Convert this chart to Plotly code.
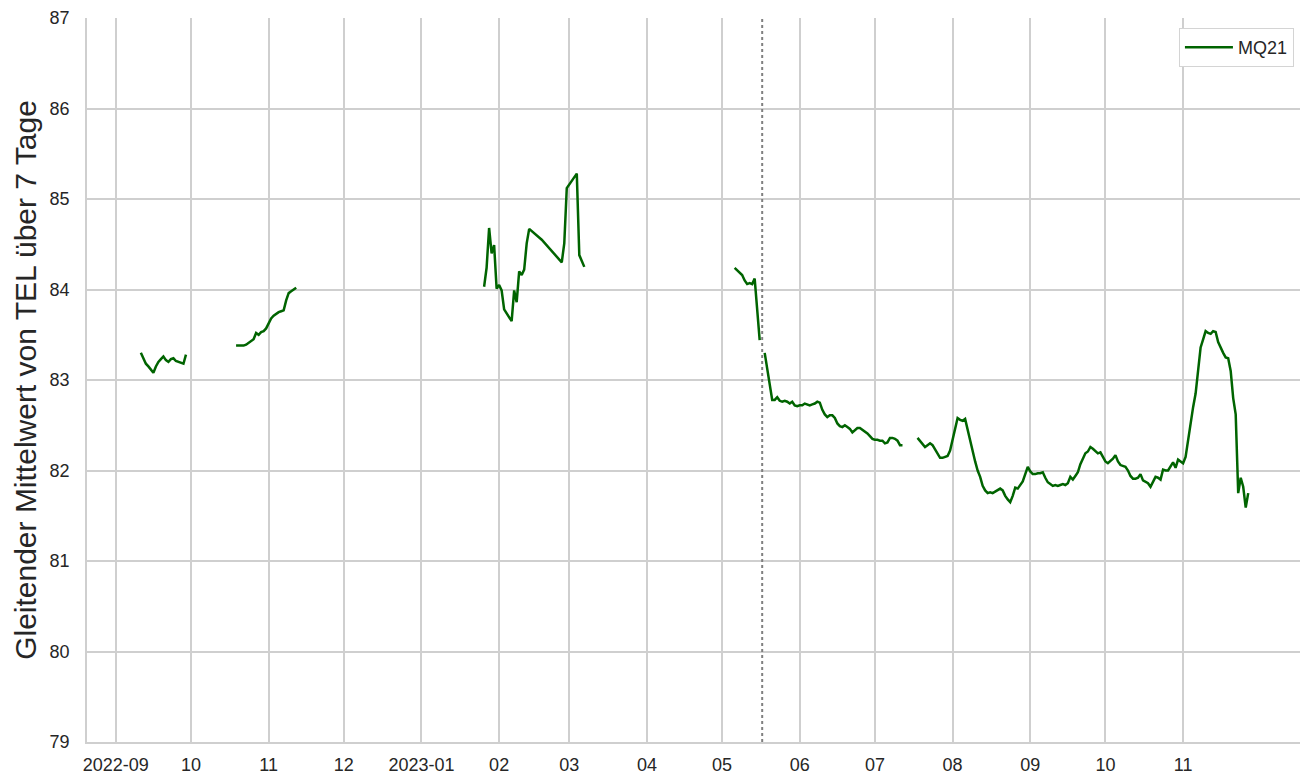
import pandas as pd
import plotly.graph_objects as go

# --- data (7-day rolling mean of TEL, series MQ21) ---
SEG1_START = "2022-09-11"
SEG1_VALUES = [83.30, 83.24, 83.18, 83.15, 83.12, 83.08, 83.15, 83.20, 83.23, 83.26,
               83.22, 83.20, 83.23, 83.24, 83.21, 83.20, 83.19, 83.18, 83.28]

SEG2_START = "2022-10-19"
SEG2_VALUES = [83.38, 83.38, 83.38, 83.38, 83.39, 83.41, 83.43, 83.45, 83.52, 83.50,
               83.53, 83.54, 83.57, 83.63, 83.68, 83.71, 83.73, 83.75, 83.76, 83.77,
               83.88, 83.96, 83.98, 84.00, 84.02]

SEG3_DATES = ["2023-01-26", "2023-01-27", "2023-01-28", "2023-01-29", "2023-01-30",
              "2023-01-31", "2023-02-01", "2023-02-02", "2023-02-03", "2023-02-06",
              "2023-02-07", "2023-02-08", "2023-02-09", "2023-02-10", "2023-02-11",
              "2023-02-12", "2023-02-13", "2023-02-18", "2023-02-26", "2023-02-27",
              "2023-02-28", "2023-03-04", "2023-03-05", "2023-03-07"]
SEG3_VALUES = [84.03, 84.24, 84.68, 84.40, 84.49, 84.01, 84.05, 83.99, 83.78, 83.65,
               83.99, 83.86, 84.20, 84.16, 84.22, 84.51, 84.67, 84.55, 84.30, 84.51,
               85.12, 85.28, 84.38, 84.25]

SEG4_START = "2023-05-06"
SEG4_VALUES = [84.24, 84.21, 84.19, 84.16, 84.10, 84.06, 84.07, 84.06, 84.12, 83.81,
               83.44]

SEG5_START = "2023-05-18"
SEG5_VALUES = [83.30, 83.13, 82.95, 82.78, 82.78, 82.81, 82.77, 82.76, 82.77, 82.76,
               82.74, 82.76, 82.72, 82.71, 82.72, 82.72, 82.74, 82.73, 82.72, 82.73,
               82.74, 82.76, 82.75, 82.67, 82.62, 82.59, 82.61, 82.61, 82.58, 82.52,
               82.49, 82.48, 82.50, 82.48, 82.46, 82.42, 82.44, 82.47, 82.47, 82.45,
               82.43, 82.41, 82.38, 82.35, 82.34, 82.34, 82.33, 82.33, 82.30, 82.31,
               82.36, 82.36, 82.35, 82.33, 82.28, 82.28]

SEG6_START = "2023-07-18"
SEG6_VALUES = [82.36, 82.33, 82.30, 82.26, 82.28, 82.30, 82.28, 82.23, 82.18, 82.14,
               82.14, 82.15, 82.16, 82.22, 82.35, 82.45, 82.58, 82.56, 82.55, 82.57,
               82.45, 82.35, 82.20, 82.10, 82.00, 81.93, 81.83, 81.78, 81.75, 81.76,
               81.75, 81.77, 81.79, 81.80, 81.78, 81.72, 81.68, 81.65, 81.72, 81.81,
               81.80, 81.84, 81.88, 81.96, 82.04, 81.99, 81.96, 81.96, 81.97, 81.97,
               81.98, 81.92, 81.87, 81.85, 81.83, 81.84, 81.83, 81.84, 81.85, 81.84,
               81.86, 81.93, 81.90, 81.94, 81.98, 82.07, 82.14, 82.19, 82.21, 82.26,
               82.24, 82.21, 82.19, 82.20, 82.15, 82.10, 82.08, 82.10, 82.13, 82.17,
               82.10, 82.06, 82.05, 82.04, 82.00, 81.94, 81.91, 81.91, 81.92, 81.96,
               81.89, 81.87, 81.86, 81.82, 81.87, 81.93, 81.92, 81.90, 82.01, 82.00,
               82.00, 82.05, 82.09, 82.03, 82.12, 82.10, 82.08, 82.15, 82.35, 82.55,
               82.70, 82.85, 83.10, 83.36, 83.45, 83.54, 83.52, 83.51, 83.54, 83.53,
               83.42, 83.35, 83.30, 83.25, 83.24, 83.10, 82.80, 82.62, 81.75, 81.92,
               81.82, 81.59, 81.75]

EVENT_DATE = "2023-05-17"
X_RANGE = ["2022-08-20 12:00", "2023-12-17 16:00"]
TICK_DATES = pd.date_range("2022-09-01", "2023-11-01", freq="MS")
TICK_TEXT = ["2022-09", "10", "11", "12", "2023-01", "02", "03", "04", "05", "06",
             "07", "08", "09", "10", "11"]
Y_TICKS = list(range(79, 88))


def daily(start, values):
    return pd.Series(values, index=pd.date_range(start, periods=len(values), freq="D"))


segments = [
    daily(SEG1_START, SEG1_VALUES),
    daily(SEG2_START, SEG2_VALUES),
    pd.Series(SEG3_VALUES, index=pd.to_datetime(SEG3_DATES)),
    daily(SEG4_START, SEG4_VALUES),
    daily(SEG5_START, SEG5_VALUES),
    daily(SEG6_START, SEG6_VALUES),
]

# join segments with a NaN between them so the line breaks
xs, ys = [], []
for s in segments:
    if xs:
        xs.append(s.index[0] - pd.Timedelta(hours=12))
        ys.append(None)
    xs.extend(s.index)
    ys.extend(s.values)

GRID = "#cfcfcf"
TEXT = "#262626"

fig = go.Figure()
fig.add_trace(go.Scatter(x=xs, y=ys, mode="lines", name="MQ21",
                         line=dict(color="#006400", width=2.5), connectgaps=False))

fig.add_shape(type="line", xref="x", yref="paper", x0=EVENT_DATE, x1=EVENT_DATE,
              y0=0, y1=1, line=dict(color="#808080", width=2, dash="dot"))

fig.update_layout(
    width=1301, height=778,
    margin=dict(l=87, r=1, t=18, b=36),
    paper_bgcolor="white", plot_bgcolor="white",
    font=dict(family="Liberation Sans, Arial, sans-serif", size=18, color=TEXT),
    showlegend=True,
    legend=dict(x=0.995, y=0.986, xanchor="right", yanchor="top",
                bgcolor="white", bordercolor="#d4d4d4", borderwidth=1,
                itemwidth=48, font=dict(size=18, color=TEXT)),
)
fig.update_xaxes(
    range=X_RANGE, tickvals=TICK_DATES, ticktext=TICK_TEXT,
    showgrid=True, gridcolor=GRID, gridwidth=1.6,
    showline=True, linecolor=GRID, linewidth=1.6,
    ticks="", ticklabelstandoff=6, zeroline=False,
)
# invisible outside ticks push the y labels away from the axis like in the reference
fig.update_yaxes(
    range=[79, 87], tickvals=Y_TICKS,
    showgrid=True, gridcolor=GRID, gridwidth=1.6,
    showline=True, linecolor=GRID, linewidth=1.6,
    ticks="outside", ticklen=12, tickcolor="rgba(0,0,0,0)", zeroline=False,
    title=dict(text="Gleitender Mittelwert von TEL über 7 Tage",
               font=dict(size=30, color=TEXT), standoff=4),
)

# the page's default body margin would push the fixed-size figure off the window
fig.write_html("out.html", config={"displayModeBar": False},
               post_script="document.body.style.margin='0';")
